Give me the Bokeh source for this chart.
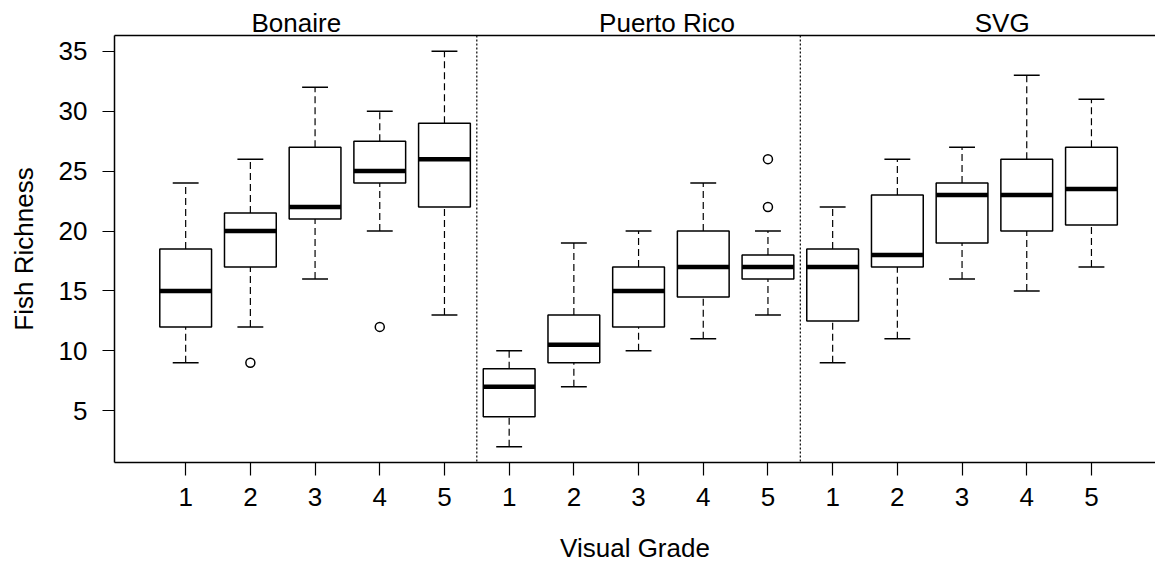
from bokeh.plotting import figure
from bokeh.models import Range1d, FixedTicker, Span, ColumnDataSource, LinearAxis
from bokeh.embed import file_html
from bokeh.resources import INLINE

# ---- data ----
sites = ["Bonaire", "Puerto Rico", "SVG"]
grades = ["1", "2", "3", "4", "5"]

# per box: site index, grade index, lower whisker, Q1, median, Q3, upper whisker
box_site = [0, 0, 0, 0, 0, 1, 1, 1, 1, 1, 2, 2, 2, 2, 2]
box_grade = [0, 1, 2, 3, 4, 0, 1, 2, 3, 4, 0, 1, 2, 3, 4]
whisk_lo = [9, 12, 16, 20, 13, 2, 7, 10, 11, 13, 9, 11, 16, 15, 17]
q1 = [12, 17, 21, 24, 22, 4.5, 9, 12, 14.5, 16, 12.5, 17, 19, 20, 20.5]
median = [15, 20, 22, 25, 26, 7, 10.5, 15, 17, 17, 17, 18, 23, 23, 23.5]
q3 = [18.5, 21.5, 27, 27.5, 29, 8.5, 13, 17, 20, 18, 18.5, 23, 24, 26, 27]
whisk_hi = [24, 26, 32, 30, 35, 10, 19, 20, 24, 20, 22, 26, 27, 33, 31]

out_site = [0, 0, 1, 1]
out_grade = [1, 3, 4, 4]
out_value = [9, 12, 26, 22]

y_ticks = [5, 10, 15, 20, 25, 30, 35]

# ---- layout constants ----
FONT = "Liberation Sans"
FS = "26px"
BOXW = 0.8
CAPW = 0.4
Y0, Y1 = 0.68, 36.32
X0, X1 = -0.1, 15.99
title_x = [2.71, 8.44, 13.62]

ng = len(grades)
pos = [s * ng + g + 1 for s, g in zip(box_site, box_grade)]
out_pos = [s * ng + g + 1 for s, g in zip(out_site, out_grade)]

src = ColumnDataSource(dict(
    x=pos,
    left=[p_ - BOXW / 2 for p_ in pos],
    right=[p_ + BOXW / 2 for p_ in pos],
    cl=[p_ - CAPW / 2 for p_ in pos],
    cr=[p_ + CAPW / 2 for p_ in pos],
    wlo=whisk_lo, q1=q1, med=median, q3=q3, whi=whisk_hi,
))

p = figure(width=1155, height=569, output_backend="svg", toolbar_location=None,
           x_range=Range1d(X0, X1), y_range=Range1d(Y0, Y1),
           min_border_left=114, min_border_right=0, min_border_top=35,
           min_border_bottom=107)
p.grid.visible = False
p.outline_line_color = None
p.background_fill_color = "white"
p.border_fill_color = "white"

# whiskers
p.segment(x0="x", y0="q3", x1="x", y1="whi", source=src, line_color="black",
          line_width=1.2, line_dash="7 4")
p.segment(x0="x", y0="wlo", x1="x", y1="q1", source=src, line_color="black",
          line_width=1.2, line_dash="7 4")
# caps
p.segment(x0="cl", y0="whi", x1="cr", y1="whi", source=src, line_color="black", line_width=1.5)
p.segment(x0="cl", y0="wlo", x1="cr", y1="wlo", source=src, line_color="black", line_width=1.5)
# boxes
p.quad(left="left", right="right", bottom="q1", top="q3", source=src,
       fill_color="white", line_color="black", line_width=1.5)
# medians
p.segment(x0="left", y0="med", x1="right", y1="med", source=src, line_color="black",
          line_width=4.5)
# outliers
p.scatter(x=out_pos, y=out_value, marker="circle", size=9, fill_color=None,
          line_color="black", line_width=1.5)

# separators between sites
for s in range(1, len(sites)):
    p.add_layout(Span(location=s * ng + 0.5, dimension="height", line_color="black",
                      line_width=1.2, line_dash="2 2"))

# axes
xa = p.below[0]
ya = p.left[0]
xa.ticker = FixedTicker(ticks=list(range(1, len(sites) * ng + 1)))
xa.major_label_overrides = {s * ng + g + 1: grades[g] for s in range(len(sites)) for g in range(ng)}
xa.axis_label = "Visual Grade"
ya.ticker = FixedTicker(ticks=y_ticks)
ya.axis_label = "Fish Richness"

for ax in (xa, ya):
    ax.axis_line_color = "black"
    ax.axis_line_width = 1.5
    ax.major_tick_line_color = "black"
    ax.major_tick_line_width = 1.2
    ax.minor_tick_line_color = None
    ax.major_tick_in = 0
    ax.major_label_text_font = FONT
    ax.major_label_text_font_size = FS
    ax.major_label_text_color = "black"
    ax.axis_label_text_font = FONT
    ax.axis_label_text_font_size = FS
    ax.axis_label_text_font_style = "normal"
    ax.axis_label_text_color = "black"

xa.major_tick_out = 13
xa.major_label_standoff = 12
xa.axis_label_standoff = 24
ya.major_tick_out = 12
ya.major_label_standoff = 15
ya.axis_label_standoff = 17

# site titles as a top axis (also draws the top edge of the box)
top = LinearAxis(ticker=FixedTicker(ticks=title_x),
                 major_label_overrides={title_x[i]: sites[i] for i in range(len(sites))})
top.major_tick_line_color = None
top.minor_tick_line_color = None
top.major_tick_out = 0
top.major_tick_in = 0
top.major_label_standoff = -2
top.axis_line_color = "black"
top.axis_line_width = 1.5
top.major_label_text_font = FONT
top.major_label_text_font_size = FS
top.major_label_text_color = "black"
p.add_layout(top, "above")

open("out.html", "w").write(file_html(p, INLINE))
